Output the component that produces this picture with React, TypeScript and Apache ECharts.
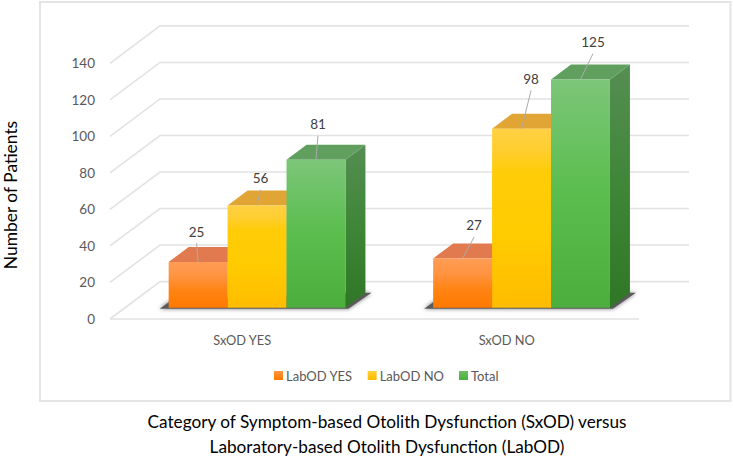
import React, { useEffect, useRef } from "react";
import * as echarts from "echarts";

const categories = ["SxOD YES", "SxOD NO"];
const labOdYes = [25, 27];
const labOdNo = [56, 98];
const total = [81, 125];
const yTicks = [0, 20, 40, 60, 80, 100, 120, 140];
const seriesNames = ["LabOD YES", "LabOD NO", "Total"];
const xTitle = "Category of Symptom-based Otolith Dysfunction (SxOD) versus\nLaboratory-based Otolith Dysfunction (LabOD)";
const yTitle = "Number of Patients";

// Layout (pixels), not data
const FONT = "Lato, Carlito, sans-serif";
const WALL = { dx: 50, dy: 37.4 };
const FLOOR = { dx: 14.8, dy: 11.3 };
const DEPTH = { dx: 20, dy: 15 };
const BAR_RATIO = 0.2228;
// leader-line offsets from each bar's top-centre, per series then per category
const leaderOffsets = [
  [[-1.5, -18.7], [11.5, -21.4]],
  [[3.5, -15.7], [9.5, -38.3]],
  [[2, -24], [12.5, -25.7]],
];

const grad = (stops: [number, string][]) =>
  new echarts.graphic.LinearGradient(0, 0, 0, 1, stops.map(([offset, color]) => ({ offset, color })));

const palette = [
  {
    front: () => grad([[0, "#FF9C55"], [0.3, "#FF9442"], [0.62, "#FF8414"], [1, "#FF7900"]]),
    top: "#E17B4F",
    side: () => grad([[0, "#C8703A"], [1, "#B85A10"]]),
    swatch: () => grad([[0, "#FF9442"], [1, "#FF7900"]]),
  },
  {
    front: () => grad([[0, "#FFD044"], [0.12, "#FFCE30"], [0.24, "#FFCC08"], [0.6, "#FFCB00"], [1, "#FFBC00"]]),
    top: "#E0A534",
    side: () => grad([[0, "#D0A030"], [1, "#C08A00"]]),
    swatch: () => grad([[0, "#FFCF36"], [1, "#FFBC00"]]),
  },
  {
    front: () => grad([[0, "#7CC679"], [0.5, "#5ABD4D"], [1, "#4CAE3C"]]),
    top: "#609F5E",
    side: () => grad([[0, "#558E52"], [0.5, "#3F8638"], [1, "#2F7726"]]),
    swatch: () => grad([[0, "#6CC060"], [1, "#4CAE3C"]]),
  },
];

const poly = (points: number[][], style: any, z2 = 0) => ({
  type: "polygon",
  z2,
  shape: { points },
  style,
});

const barSeries = (name: string, values: number[], index: number) => ({
  type: "custom",
  name,
  coordinateSystem: "cartesian2d",
  itemStyle: { color: palette[index].swatch() },
  silent: true,
  z: 5 + index,
  data: values.map((v, c) => [c, v]),
  renderItem: (_: any, api: any) => {
    const cat = api.value(0);
    const val = api.value(1);
    const band = api.size([1, 0])[0];
    const w = band * BAR_RATIO;
    const center = api.coord([cat, 0]);
    const topPt = api.coord([cat, val]);
    const x0 = center[0] + FLOOR.dx + (index - 1.5) * w;
    const x1 = x0 + w;
    const yb = center[1] - FLOOR.dy;
    const yt = topPt[1] - FLOOR.dy;
    const colors = palette[index];
    const [ox, oy] = leaderOffsets[index][cat];
    const cx = (x0 + x1) / 2;
    return {
      type: "group",
      children: [
        poly([[x1, yb], [x1 + DEPTH.dx, yb - DEPTH.dy], [x1 + DEPTH.dx, yt - DEPTH.dy], [x1, yt]], { fill: colors.side() }),
        poly([[x0, yt], [x1, yt], [x1 + DEPTH.dx, yt - DEPTH.dy], [x0 + DEPTH.dx, yt - DEPTH.dy]], { fill: colors.top }),
        { type: "rect", shape: { x: x0, y: yt, width: w, height: yb - yt }, style: { fill: colors.front() } },
        {
          type: "line",
          shape: { x1: cx, y1: yt, x2: cx + ox, y2: yt + oy },
          style: { stroke: "#ABABAB", lineWidth: 1 },
        },
        {
          type: "text",
          style: {
            text: String(val),
            x: cx + ox,
            y: yt + oy - 11.5,
            align: "center",
            verticalAlign: "middle",
            fill: "#404040",
            font: `13.5px ${FONT}`,
          },
        },
      ],
    };
  },
});

const option: any = {
  animation: false,
  backgroundColor: "#ffffff",
  grid: { left: 110, right: 94, top: 63.3, height: 255.7 },
  title: {
    text: xTitle,
    left: 382,
    top: 404,
    textAlign: "center",
    textStyle: { fontFamily: FONT, fontSize: 17.2, fontWeight: "normal", color: "#000000", lineHeight: 25 },
  },
  legend: {
    left: 269,
    top: 364,
    data: seriesNames,
    icon: "rect",
    itemWidth: 9,
    itemHeight: 9,
    itemGap: 15,
    selectedMode: false,
    textStyle: { fontFamily: FONT, fontSize: 13, color: "#595959", padding: [0, 0, 0, -2] },
  },
  xAxis: {
    type: "category",
    data: categories,
    axisLine: { show: false },
    axisTick: { show: false },
    axisLabel: { fontFamily: FONT, fontSize: 12.8, color: "#595959", margin: 14 },
  },
  yAxis: {
    type: "value",
    min: yTicks[0],
    max: yTicks[yTicks.length - 1],
    interval: yTicks[1] - yTicks[0],
    axisLine: { show: false },
    axisTick: { show: false },
    splitLine: { show: false },
    axisLabel: { fontFamily: FONT, fontSize: 13.5, color: "#595959", margin: 15 },
  },
  graphic: [
    {
      type: "rect",
      z: -10,
      silent: true,
      shape: { x: 40, y: 2, width: 690.5, height: 399 },
      style: { fill: "#ffffff", stroke: "#E4E4E4", lineWidth: 2 },
    },
    {
      type: "text",
      x: 10,
      y: 195,
      rotation: Math.PI / 2,
      style: {
        text: yTitle,
        align: "center",
        verticalAlign: "middle",
        fill: "#000000",
        font: `17.4px ${FONT}`,
      },
    },
  ],
  series: [
    {
      type: "custom",
      name: "grid3d",
      coordinateSystem: "cartesian2d",
      silent: true,
      z: 1,
      data: yTicks.map((t) => [0, t]),
      renderItem: (params: any, api: any) => {
        const v = api.value(1);
        const y = api.coord([0, v])[1];
        const l = params.coordSys.x;
        const r = l + params.coordSys.width;
        const style = { stroke: "#E2E2E2", lineWidth: 1.6, fill: "none" };
        const children: any[] = [
          {
            type: "polyline",
            shape: { points: [[l, y], [l + WALL.dx, y - WALL.dy], [r + WALL.dx, y - WALL.dy]] },
            style,
          },
        ];
        if (v === 0) {
          children.push({ type: "line", shape: { x1: l, y1: y, x2: r, y2: y }, style });
        }
        return { type: "group", children };
      },
    },
    {
      type: "custom",
      name: "floorShadow",
      coordinateSystem: "cartesian2d",
      silent: true,
      z: 2,
      data: categories.map((_, c) => [c, 0]),
      renderItem: (_: any, api: any) => {
        const band = api.size([1, 0])[0];
        const w = band * BAR_RATIO;
        const p = api.coord([api.value(0), 0]);
        const x0 = p[0] + FLOOR.dx - 1.5 * w;
        const x1 = x0 + 3 * w;
        const yb = p[1] - FLOOR.dy;
        return poly(
          [[x0 - 9, yb + 1], [x0 + 2, yb - 7], [x1 + 14, yb - 15], [x1 + 26, yb - 15], [x1 + 3, yb + 1]],
          { fill: "#5A5A5A", shadowBlur: 4, shadowColor: "rgba(0,0,0,0.55)" }
        );
      },
    },
    barSeries(seriesNames[0], labOdYes, 0),
    barSeries(seriesNames[1], labOdNo, 1),
    barSeries(seriesNames[2], total, 2),
  ],
};

export default function App() {
  const ref = useRef<HTMLDivElement>(null);
  useEffect(() => {
    document.body.style.margin = "0";
    const chart = echarts.init(ref.current!, undefined, { renderer: "svg" });
    chart.setOption(option);
    return () => chart.dispose();
  }, []);
  return <div ref={ref} style={{ width: 733, height: 457 }} />;
}
